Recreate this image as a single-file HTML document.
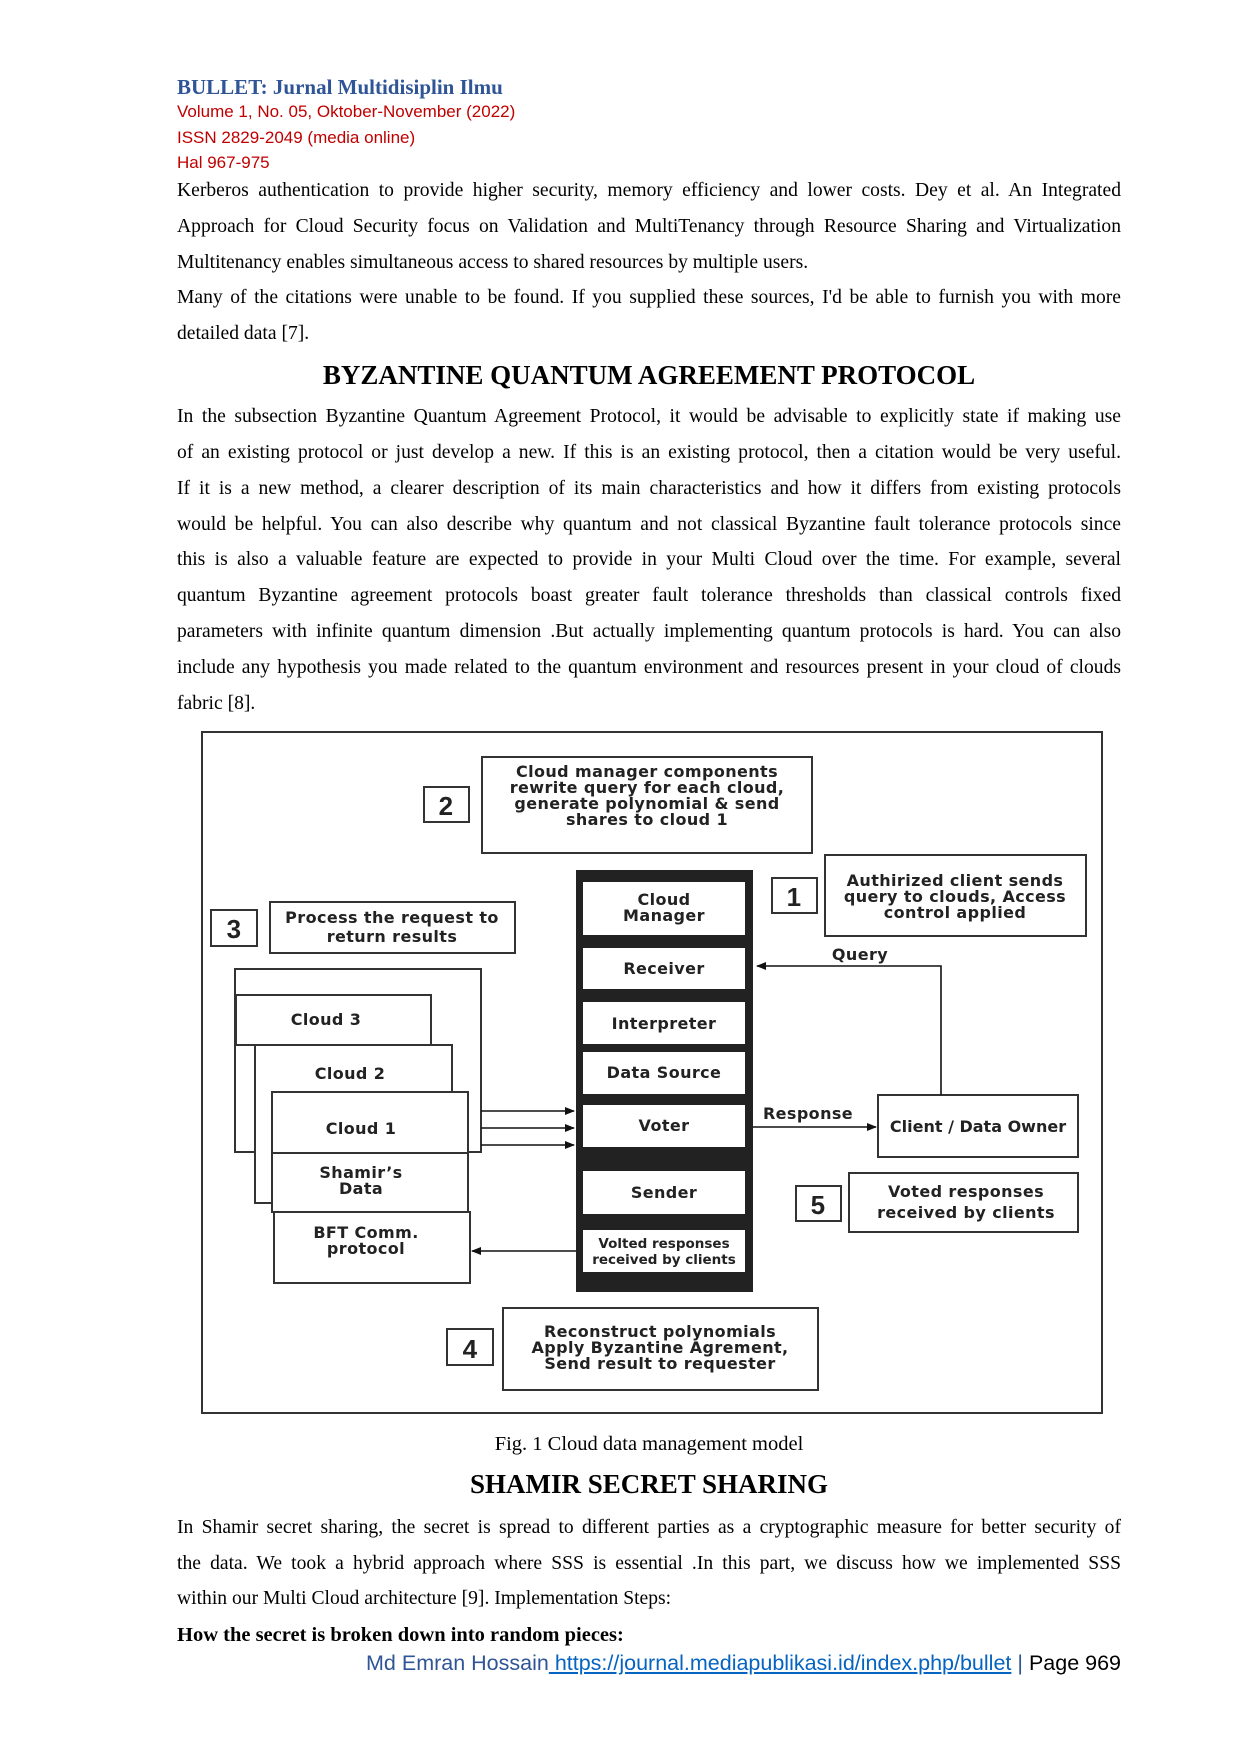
<!DOCTYPE html>
<html><head><meta charset="utf-8">
<style>
html,body{margin:0;padding:0;background:#fff;}
body{width:1240px;height:1754px;position:relative;overflow:hidden;font-family:"Liberation Serif",serif;color:#000;}
.l{position:absolute;left:177px;width:944px;font-size:19.6px;line-height:24px;height:24px;text-align:justify;text-align-last:justify;white-space:nowrap;}
.last{text-align-last:left;}
.h{position:absolute;left:0;width:1298px;text-align:center;font-weight:bold;font-size:27px;line-height:30px;}
.sa{position:absolute;left:177px;font-family:"Liberation Sans",sans-serif;font-size:17px;line-height:20px;color:#c00000;}
</style></head><body>
<div style="position:absolute;left:177px;top:74px;font-size:21px;font-weight:bold;color:#2f5597;line-height:26px;">BULLET: Jurnal Multidisiplin Ilmu</div>
<div class="sa" style="top:102px">Volume 1, No. 05, Oktober-November (2022)</div>
<div class="sa" style="top:128px">ISSN 2829-2049 (media online)</div>
<div class="sa" style="top:153px">Hal 967-975</div>

<div class="l" style="top:179px">Kerberos authentication to provide higher security, memory efficiency and lower costs. Dey et al. An Integrated</div>
<div class="l" style="top:215px">Approach for Cloud Security focus on Validation and MultiTenancy through Resource Sharing and Virtualization</div>
<div class="l last" style="top:251px">Multitenancy enables simultaneous access to shared resources by multiple users.</div>
<div class="l" style="top:286px">Many of the citations were unable to be found. If you supplied these sources, I'd be able to furnish you with more</div>
<div class="l last" style="top:322px">detailed data [7].</div>

<div class="h" style="top:360px">BYZANTINE QUANTUM AGREEMENT PROTOCOL</div>

<div class="l" style="top:405px">In the subsection Byzantine Quantum Agreement Protocol, it would be advisable to explicitly state if making use</div>
<div class="l" style="top:441px">of an existing protocol or just develop a new. If this is an existing protocol, then a citation would be very useful.</div>
<div class="l" style="top:477px">If it is a new method, a clearer description of its main characteristics and how it differs from existing protocols</div>
<div class="l" style="top:513px">would be helpful. You can also describe why quantum and not classical Byzantine fault tolerance protocols since</div>
<div class="l" style="top:548px">this is also a valuable feature are expected to provide in your Multi Cloud over the time. For example, several</div>
<div class="l" style="top:584px">quantum Byzantine agreement protocols boast greater fault tolerance thresholds than classical controls fixed</div>
<div class="l" style="top:620px">parameters with infinite quantum dimension .But actually implementing quantum protocols is hard. You can also</div>
<div class="l" style="top:656px">include any hypothesis you made related to the quantum environment and resources present in your cloud of clouds</div>
<div class="l last" style="top:692px">fabric [8].</div>

<svg style="position:absolute;left:0;top:0" width="1240" height="1754" font-family="DejaVu Sans, sans-serif" font-weight="bold" fill="none">
<defs><marker id="a" markerWidth="10" markerHeight="8" refX="9" refY="4" orient="auto" markerUnits="userSpaceOnUse"><path d="M0,0 L10,4 L0,8 z" fill="#111"/></marker></defs>
<g stroke="#333" stroke-width="2">
<rect x="202" y="732" width="900" height="681"/>
<rect x="424" y="787" width="45" height="35"/>
<rect x="482" y="757" width="330" height="96"/>
<rect x="211" y="910" width="46" height="36"/>
<rect x="270" y="902" width="245" height="51"/>
<rect x="772" y="878" width="45" height="35"/>
<rect x="825" y="855" width="261" height="81"/>
<rect x="235" y="969" width="246" height="183" fill="#fff"/>
<rect x="236" y="995" width="195" height="50" fill="#fff"/>
<rect x="255" y="1045" width="197" height="158" fill="#fff"/>
<rect x="272" y="1092" width="196" height="61" fill="#fff"/>
<rect x="272" y="1153" width="196" height="59" fill="#fff"/>
<rect x="274" y="1212" width="196" height="71" fill="#fff"/>
<rect x="878" y="1095" width="200" height="62"/>
<rect x="796" y="1186" width="45" height="35"/>
<rect x="849" y="1173" width="229" height="59"/>
<rect x="447" y="1329" width="46" height="36"/>
<rect x="503" y="1308" width="315" height="82"/>
</g>
<rect x="576" y="870" width="177" height="422" fill="#222"/>
<g fill="#fff">
<rect x="583" y="882" width="162" height="53"/>
<rect x="583" y="948" width="162" height="41"/>
<rect x="583" y="1002" width="162" height="42"/>
<rect x="583" y="1052" width="162" height="42"/>
<rect x="583" y="1105" width="162" height="42"/>
<rect x="583" y="1171" width="162" height="43"/>
<rect x="583" y="1230" width="162" height="42"/>
</g>
<g stroke="#111" stroke-width="1.6">
<line x1="481" y1="1111" x2="574" y2="1111" marker-end="url(#a)"/>
<line x1="481" y1="1128" x2="574" y2="1128" marker-end="url(#a)"/>
<line x1="481" y1="1145" x2="574" y2="1145" marker-end="url(#a)"/>
<line x1="576" y1="1251" x2="472" y2="1251" marker-end="url(#a)"/>
<polyline points="941,1095 941,966 757,966" marker-end="url(#a)"/>
<line x1="753" y1="1127" x2="876" y2="1127" marker-end="url(#a)"/>
</g>
<g fill="#222" text-anchor="middle" font-size="16" letter-spacing="0.4">
<text x="446" y="815" font-size="26" font-family="Liberation Sans, sans-serif">2</text>
<text x="234" y="938" font-size="26" font-family="Liberation Sans, sans-serif">3</text>
<text x="794" y="906" font-size="26" font-family="Liberation Sans, sans-serif">1</text>
<text x="818" y="1214" font-size="26" font-family="Liberation Sans, sans-serif">5</text>
<text x="470" y="1358" font-size="26" font-family="Liberation Sans, sans-serif">4</text>
<text x="647" y="777">Cloud manager components</text>
<text x="647" y="793">rewrite query for each cloud,</text>
<text x="647" y="809">generate polynomial &amp; send</text>
<text x="647" y="825">shares to cloud 1</text>
<text x="392" y="923">Process the request to</text>
<text x="392" y="942">return results</text>
<text x="955" y="886">Authirized client sends</text>
<text x="955" y="902">query to clouds, Access</text>
<text x="955" y="918">control applied</text>
<text x="664" y="905">Cloud</text>
<text x="664" y="921">Manager</text>
<text x="664" y="974">Receiver</text>
<text x="664" y="1029">Interpreter</text>
<text x="664" y="1078">Data Source</text>
<text x="664" y="1131">Voter</text>
<text x="664" y="1198">Sender</text>
<text x="664" y="1248" font-size="13.5" letter-spacing="0">Volted responses</text>
<text x="664" y="1264" font-size="13.5" letter-spacing="0">received by clients</text>
<text x="326" y="1025">Cloud 3</text>
<text x="350" y="1079">Cloud 2</text>
<text x="361" y="1134">Cloud 1</text>
<text x="361" y="1178">Shamir’s</text>
<text x="361" y="1194">Data</text>
<text x="366" y="1238">BFT Comm.</text>
<text x="366" y="1254">protocol</text>
<text x="860" y="960">Query</text>
<text x="808" y="1119">Response</text>
<text x="978" y="1132" letter-spacing="0">Client / Data Owner</text>
<text x="966" y="1197">Voted responses</text>
<text x="966" y="1218">received by clients</text>
<text x="660" y="1337">Reconstruct polynomials</text>
<text x="660" y="1353">Apply Byzantine Agrement,</text>
<text x="660" y="1369">Send result to requester</text>
</g>
</svg>

<div style="position:absolute;left:0;width:1298px;top:1432px;text-align:center;font-size:20.5px;line-height:24px;">Fig. 1 Cloud data management model</div>
<div class="h" style="top:1469px">SHAMIR SECRET SHARING</div>
<div class="l" style="top:1516px">In Shamir secret sharing, the secret is spread to different parties as a cryptographic measure for better security of</div>
<div class="l" style="top:1552px">the data. We took a hybrid approach where SSS is essential .In this part, we discuss how we implemented SSS</div>
<div class="l last" style="top:1587px">within our Multi Cloud architecture [9]. Implementation Steps:</div>
<div class="l last" style="top:1623px;font-weight:bold;font-size:20.5px">How the secret is broken down into random pieces:</div>
<div style="position:absolute;right:119px;top:1650px;font-family:'Liberation Sans',sans-serif;font-size:21.5px;line-height:26px;white-space:nowrap;"><span style="color:#2f5597">Md Emran Hossain</span><span style="color:#0563c1;text-decoration:underline"> https://journal.mediapublikasi.id/index.php/bullet</span> <span style="color:#2f5597">|</span> Page 969</div>
</body></html>
